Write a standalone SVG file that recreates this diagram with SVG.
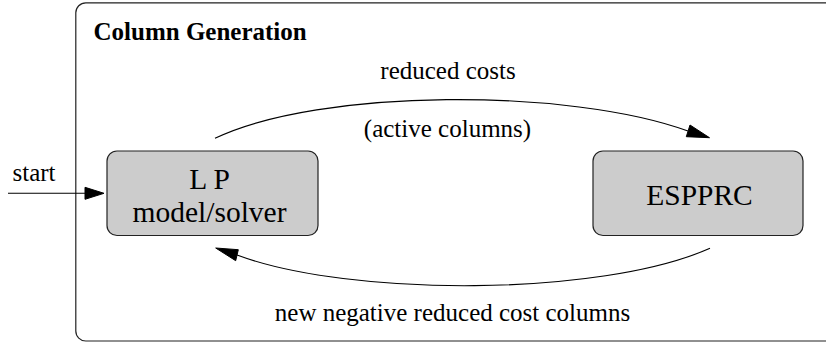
<svg xmlns="http://www.w3.org/2000/svg" width="826" height="345" viewBox="0 0 826 345">
  <defs>
    <style>
      .frame { fill: #ffffff; stroke: #222222; stroke-width: 1.2; }
      .node rect { fill: #cccccc; stroke: #222222; stroke-width: 1.2; }
      .node text { font-size: 29.5px; fill: #000000; text-anchor: middle; }
      .edge { fill: none; stroke: #000000; stroke-width: 1.1; }
      .head { fill: #000000; stroke: #000000; stroke-width: 1; }
      .label { font-size: 25px; fill: #000000; }
      .title { font-size: 25px; font-weight: bold; fill: #000000; }
    </style>
  </defs>
  <rect width="826" height="345" fill="#ffffff"/>

  <g font-family="'Liberation Serif', 'Times New Roman', serif">
    <!-- cluster: Column Generation -->
    <g id="cluster_cg">
      <rect class="frame" x="75.8" y="2.8" width="780" height="338.2" rx="10" ry="10"/>
      <text class="title" x="93.5" y="40">Column Generation</text>
    </g>

    <!-- nodes -->
    <g id="node_lp" class="node">
      <rect x="107" y="151" width="211" height="84.5" rx="10" ry="10"/>
      <text x="209.5" y="189">L P</text>
      <text x="209.5" y="221.7">model/solver</text>
    </g>
    <g id="node_espprc" class="node">
      <rect x="593" y="151" width="210" height="84.5" rx="10" ry="10"/>
      <text x="699.5" y="205">ESPPRC</text>
    </g>

    <!-- edges -->
    <g id="edges">
      <g id="edge_start">
        <path class="edge" d="M8,193.3 L86,193.3"/>
        <polygon class="head" points="104,193.3 85,187.3 85,199.3"/>
        <text class="label" x="12.5" y="180.7">start</text>
      </g>
      <g id="edge_lp_espprc">
        <path class="edge" d="M215,138.3 C320,88 570,88 688,131"/>
        <polygon class="head" points="709.5,137.7 690,125 686.3,136.7"/>
        <text class="label" x="448" y="79" text-anchor="middle">reduced costs</text>
        <text class="label" x="447.5" y="137" text-anchor="middle">(active columns)</text>
      </g>
      <g id="edge_espprc_lp">
        <path class="edge" d="M710,248.3 C600,297 350,297 237,255"/>
        <polygon class="head" points="215.7,248 238.3,249.7 235.7,260.7"/>
        <text class="label" x="452.5" y="321" text-anchor="middle">new negative reduced cost columns</text>
      </g>
    </g>
  </g>
</svg>
